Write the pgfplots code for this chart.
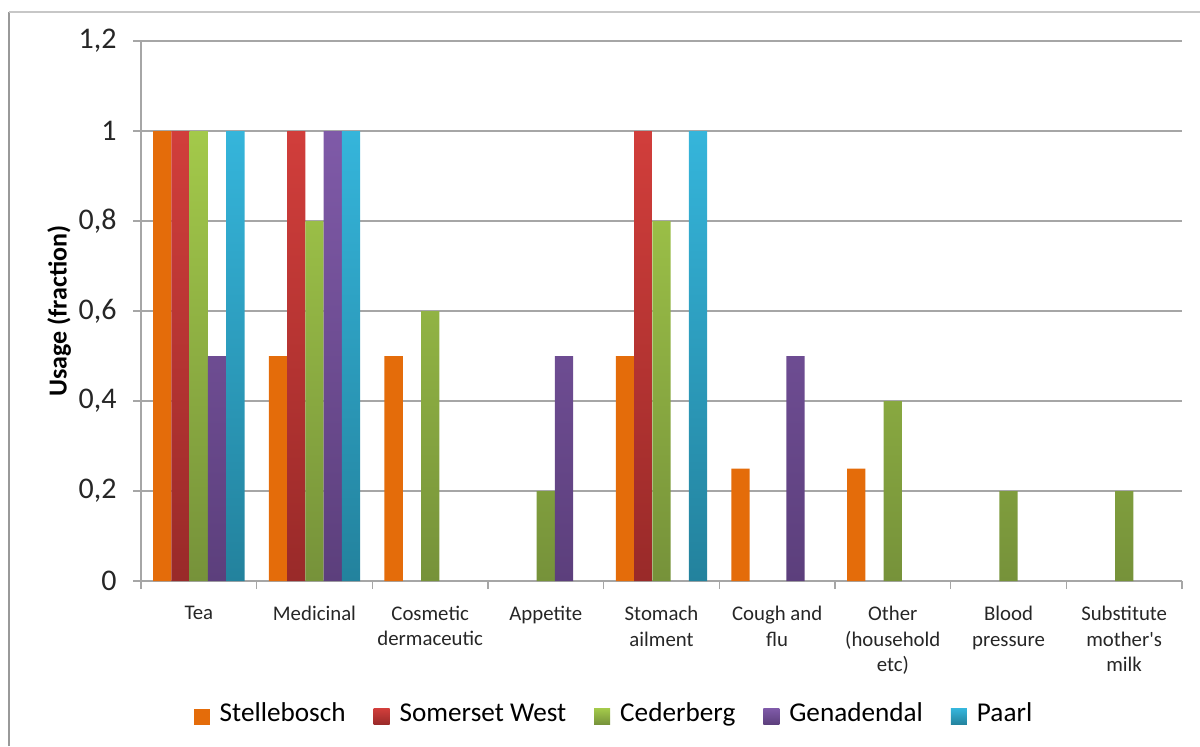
\documentclass[border=0pt]{standalone}
\usepackage{fontspec}
\setmainfont{Carlito}
\usepackage{pgfplots}
\pgfplotsset{compat=1.18}

\definecolor{orangeS}{HTML}{E46C0A}
\definecolor{redT}{HTML}{D13E3B}
\definecolor{redB}{HTML}{992A29}
\definecolor{greenT}{HTML}{A3C94A}
\definecolor{greenB}{HTML}{76923A}
\definecolor{purpleT}{HTML}{7F5AA8}
\definecolor{purpleB}{HTML}{5C3F7C}
\definecolor{cyanT}{HTML}{35B5DB}
\definecolor{cyanB}{HTML}{23829D}
\definecolor{gridc}{HTML}{A6A6A6}

\begin{document}
\begin{tikzpicture}
% outer chart frame (left and top edges only visible)
\draw[color=black!40, line width=1pt] (4.5pt,0pt) -- (4.5pt,367pt);
\draw[color=black!22, line width=0.8pt] (4.5pt,367pt) -- (600pt,367pt);
\begin{axis}[
    at={(70.5pt,82.5pt)}, anchor=south west,
    scale only axis,
    width=520.5pt, height=270pt,
    ybar=0pt,
    bar width=0.158,
    xmin=-0.5, xmax=8.5,
    ymin=0, ymax=1.2,
    ytick={0,0.2,...,1.2},
    xtick={0,...,8},
    xticklabels={Tea, Medicinal, {Cosmetic\\dermaceutic}, Appetite, {Stomach\\ailment}, {Cough and\\flu}, {Other\\(household\\etc)}, {Blood\\pressure}, {Substitute\\mother\textquotesingle s\\milk}},
    minor xtick={-0.5,0.5,...,8.5},
    tick align=outside,
    major tick length=4pt,
    minor tick length=4pt,
    major x tick style={draw=none},
    minor x tick style={draw=gridc, line width=0.8pt},
    y tick style={draw=gridc, line width=0.8pt},
    ymajorgrids,
    grid style={draw=gridc, line width=0.8pt},
    axis x line*=bottom,
    axis y line*=left,
    axis line style={draw=gridc, line width=0.8pt, -},
    /pgf/number format/use comma,
    /pgf/number format/assume math mode=true,
    yticklabel style={font=\fontsize{15}{18}\selectfont, color=black!85, inner sep=0pt, xshift=-8pt},
    xticklabel style={font=\fontsize{10.4}{12.6}\selectfont, color=black!85, align=center, anchor=north, inner sep=0pt, yshift=-8.5pt},
    ylabel={\textbf{Usage (fraction)}},
    ylabel style={font=\fontsize{13}{15}\selectfont, at={(axis description cs:-0.0787,0.5)}, anchor=center},
    legend style={at={(axis description cs:0.4553,-0.251)}, anchor=center, draw=none, fill=none,
        legend columns=-1, font=\fontsize{13.6}{16}\selectfont,
        nodes={text height=0.72em, text depth=0.22em},
        /tikz/every odd column/.append style={column sep=3pt},
        /tikz/every even column/.append style={column sep=12pt}},
    legend image code/.code={\path[#1, draw=none] (0pt,-4pt) rectangle (8pt,4pt);},
]
\addplot[draw=none, fill=orangeS] coordinates {(0,1) (1,0.5) (2,0.5) (4,0.5) (5,0.25) (6,0.25)};
\addplot[draw=none, top color=redT, bottom color=redB] coordinates {(0,1) (1,1) (4,1)};
\addplot[draw=none, top color=greenT, bottom color=greenB] coordinates {(0,1) (1,0.8) (2,0.6) (3,0.2) (4,0.8) (6,0.4) (7,0.2) (8,0.2)};
\addplot[draw=none, top color=purpleT, bottom color=purpleB] coordinates {(0,0.5) (1,1) (3,0.5) (5,0.5)};
\addplot[draw=none, top color=cyanT, bottom color=cyanB] coordinates {(0,1) (1,1) (4,1)};
\legend{Stellebosch, Somerset West, Cederberg, Genadendal, Paarl}
\end{axis}
\pgfresetboundingbox
\useasboundingbox (0pt,0pt) rectangle (600pt,373pt);
\end{tikzpicture}
\end{document}
